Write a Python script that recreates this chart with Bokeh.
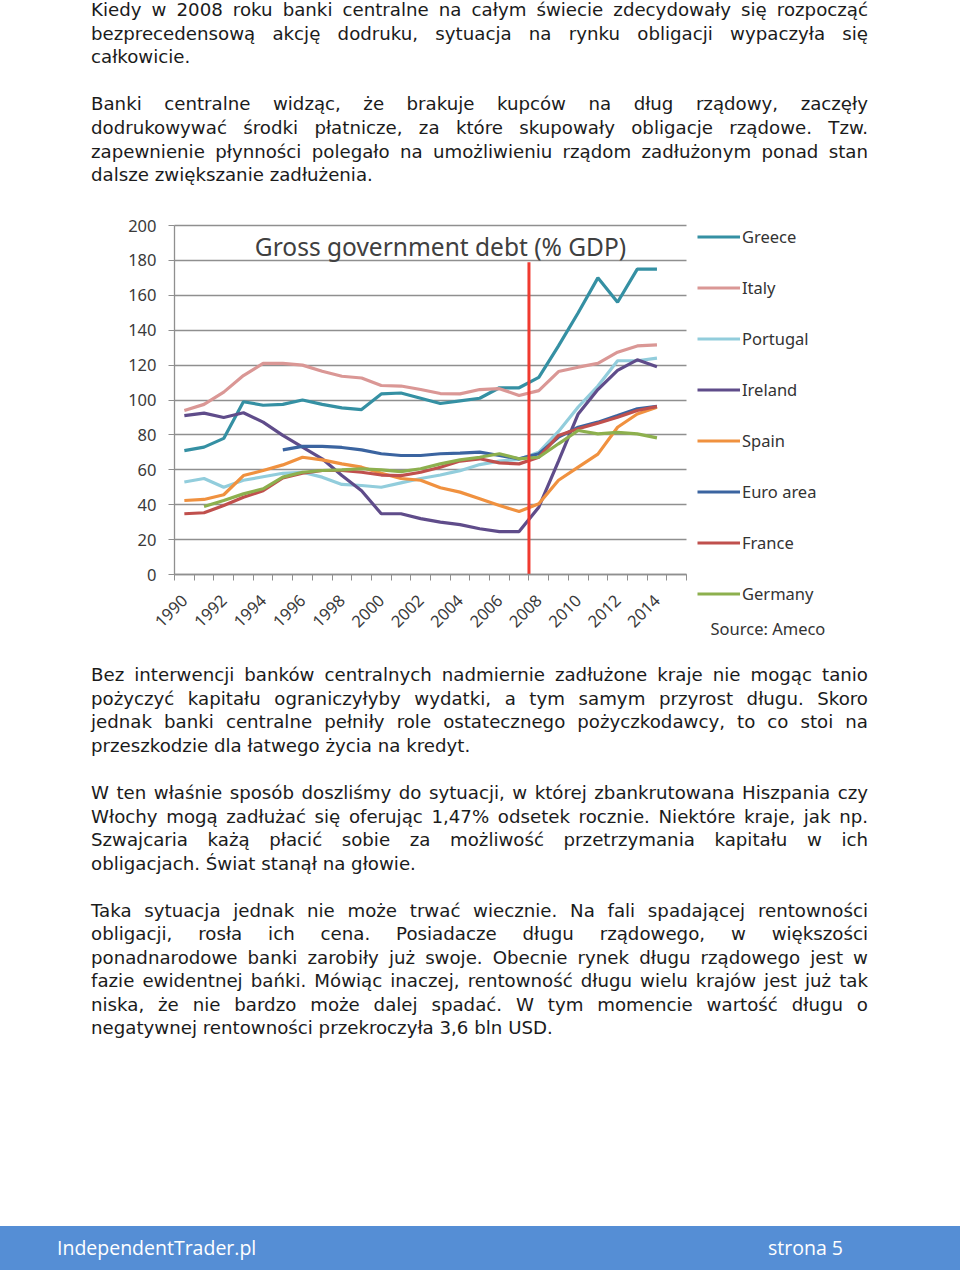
from math import pi
import numpy as np
from bokeh.plotting import figure
from bokeh.models import Range1d, FixedTicker, Legend, LegendItem, Label, Div
from bokeh.layouts import column
from bokeh.embed import file_html
from bokeh.resources import INLINE

# ---------------- data ----------------
years = list(range(1990, 2015))
greece = [71, 73, 78, 99, 97, 97.5, 100, 97.5, 95.5, 94.5, 103.5, 104, 101, 98, 99.5, 101, 107, 107, 113, 131,
          150, 170, 156, 175, 175]
italy = [94, 97.5, 104.5, 114, 121, 121, 120, 116.5, 113.6, 112.6, 108.3, 108, 106, 103.7, 103.5, 106, 106.5,
         102.6, 105.4, 116.3, 118.8, 121, 127.4, 131, 131.6]
portugal = [53, 55, 50, 54, 56, 58, 58.6, 55.8, 51.6, 51, 50, 52.5, 55, 57, 59.5, 63, 65, 66, 70, 82, 96, 108,
            122.5, 122.5, 124]
ireland = [91, 92.5, 90, 92.7, 87.3, 79.7, 73, 66.3, 56.7, 48, 34.8, 34.8, 32, 30, 28.6, 26.2, 24.6, 24.6, 38.6,
           65, 92, 106, 117, 123, 119]
spain = [42.4, 43, 45.7, 56.7, 59.6, 62.8, 67.2, 65.7, 63.4, 61.5, 58, 55, 54, 49.7, 47.2, 43.4, 39.5, 36.1, 40.5,
         54, 61.5, 69, 84.4, 92, 95.9]
euro_area = [None] * 5 + [71.4, 73.4, 73.4, 72.8, 71.4, 69.2, 68.2, 68.2, 69.2, 69.6, 70.1, 68.2, 66.3, 69.2,
                          78.7, 84.4, 87.3, 91.1, 95, 96.3]
france = [34.8, 35.4, 39.5, 44.3, 48, 55.4, 58, 59.6, 59.6, 58.6, 57, 56.7, 58.6, 61.5, 65, 66.3, 64, 63.4, 67.2,
          79.7, 83.5, 86.7, 90.1, 94, 96.3]
germany = [None, 39, 42.4, 46.2, 49.1, 55.8, 58.6, 59.6, 60, 60.6, 60, 59, 60.6, 63.4, 65.7, 67.2, 69.2, 66.3,
           67.2, 74.9, 82.5, 80.6, 81.5, 80.6, 78.3]

series_names = ["Greece", "Italy", "Portugal", "Ireland", "Spain", "Euro area", "France", "Germany"]
series_values = [greece, italy, portugal, ireland, spain, euro_area, france, germany]
series_colors = ["#3590A3", "#DA9795", "#92CDDC", "#5F4C8A", "#F0913F", "#3B64A0", "#C0504D", "#8DB04E"]

y_ticks = [0, 20, 40, 60, 80, 100, 120, 140, 160, 180, 200]
x_label_years = list(range(1990, 2015, 2))
crisis_x = 2007.5
crisis_top = 179

chart_title = "Gross government debt (% GDP)"
source_text = "Source: Ameco"

para1 = ["Kiedy w 2008 roku banki centralne na całym świecie zdecydowały się rozpocząć",
         "bezprecedensową akcję dodruku, sytuacja na rynku obligacji wypaczyła się",
         "całkowicie."]
para2 = ["Banki centralne widząc, że brakuje kupców na dług rządowy, zaczęły",
         "dodrukowywać środki płatnicze, za które skupowały obligacje rządowe. Tzw.",
         "zapewnienie płynności polegało na umożliwieniu rządom zadłużonym ponad stan",
         "dalsze zwiększanie zadłużenia."]
para3 = ["Bez interwencji banków centralnych nadmiernie zadłużone kraje nie mogąc tanio",
         "pożyczyć kapitału ograniczyłyby wydatki, a tym samym przyrost długu. Skoro",
         "jednak banki centralne pełniły role ostatecznego pożyczkodawcy, to co stoi na",
         "przeszkodzie dla łatwego życia na kredyt."]
para4 = ["W ten właśnie sposób doszliśmy do sytuacji, w której zbankrutowana Hiszpania czy",
         "Włochy mogą zadłużać się oferując 1,47% odsetek rocznie. Niektóre kraje, jak np.",
         "Szwajcaria każą płacić sobie za możliwość przetrzymania kapitału w ich",
         "obligacjach. Świat stanął na głowie."]
para5 = ["Taka sytuacja jednak nie może trwać wiecznie. Na fali spadającej rentowności",
         "obligacji, rosła ich cena. Posiadacze długu rządowego, w większości",
         "ponadnarodowe banki zarobiły już swoje. Obecnie rynek długu rządowego jest w",
         "fazie ewidentnej bańki. Mówiąc inaczej, rentowność długu wielu krajów jest już tak",
         "niska, że nie bardzo może dalej spadać. W tym momencie wartość długu o",
         "negatywnej rentowności przekroczyła 3,6 bln USD."]
footer_left = "IndependentTrader.pl"
footer_right = "strona 5"

# ---------------- text blocks ----------------
LINE_H = 23.55
TEXT_FONT = "'DejaVu Sans'"


def text_block(paragraphs, first_center, height):
    parts = [f'<div style="position:relative;width:960px;height:{height}px;font-family:{TEXT_FONT};'
             f'font-size:18.2px;color:#1b1b1b;">']
    k = 0
    for para in paragraphs:
        for i, line in enumerate(para):
            last = i == len(para) - 1
            top = first_center + k * LINE_H - LINE_H / 2
            align = "left" if last else "justify"
            parts.append(f'<div style="position:absolute;left:91px;top:{top:.2f}px;width:777px;'
                         f'height:{LINE_H}px;line-height:{LINE_H}px;text-align:{align};'
                         f'text-align-last:{align};">{line}</div>')
            k += 1
        k += 1
    parts.append("</div>")
    return "".join(parts)


TOP_H, FIG_H, MID_H, FOOT_H = 200, 455, 571, 44

top_div = Div(text=text_block([para1, para2], 10, TOP_H), width=960, height=TOP_H, margin=(0, 0, 0, 0))
bottom_div = Div(text=text_block([para3, para4, para5], 675 - (TOP_H + FIG_H), MID_H),
                 width=960, height=MID_H, margin=(0, 0, 0, 0))
footer_div = Div(text=(
    f'<div style="position:relative;width:960px;height:{FOOT_H}px;background:#558ED5;'
    "font-family:'Open Sans';font-size:19.5px;color:#ffffff;\">"
    f'<span style="position:absolute;left:57px;top:0;line-height:{FOOT_H}px;">{footer_left}</span>'
    f'<span style="position:absolute;left:768px;top:0;line-height:{FOOT_H}px;">{footer_right}</span>'
    '</div>'), width=960, height=FOOT_H, margin=(0, 0, 0, 0))

# ---------------- chart ----------------
# the plot frame covers the whole chart picture; axes and grid are limited to the data area
FIG_W = 944
DATA_LEFT, DATA_TOP = 174, 25          # pixel position of (1989.5, 200) inside the figure
FRAME_TOP = 8
px_per_year = 512 / 26.0
px_per_unit = 349 / 200.0
x0 = 1989.5
x_start = x0 - DATA_LEFT / px_per_year
x_end = x0 + (FIG_W - DATA_LEFT) / px_per_year
y_end = 200 + (DATA_TOP - FRAME_TOP) / px_per_unit
y_start = 200 - (FIG_H - DATA_TOP) / px_per_unit

p = figure(width=FIG_W, height=FIG_H, x_range=Range1d(x_start, x_end), y_range=Range1d(y_start, y_end),
           output_backend="svg", toolbar_location=None,
           min_border_left=0, min_border_right=0, min_border_top=FRAME_TOP, min_border_bottom=0,
           outline_line_color=None, background_fill_color="white", border_fill_color="white")

p.xgrid.grid_line_color = None
p.ygrid.grid_line_color = "#8f8f8f"
p.ygrid.grid_line_width = 1.3
p.ygrid.ticker = FixedTicker(ticks=y_ticks)
p.ygrid.cross_bounds = (1989.5, 2015.5)

ax = p.yaxis[0]
ax.fixed_location = 1989.5
ax.ticker = FixedTicker(ticks=y_ticks)
ax.bounds = (0, 200)
ax.axis_line_color = "#8f8f8f"
ax.axis_line_width = 1.3
ax.major_tick_in = 0
ax.major_tick_out = 6
ax.major_tick_line_color = "#8f8f8f"
ax.minor_tick_line_color = None
ax.major_label_standoff = 12
ax.major_label_text_font = "Noto Sans"
ax.major_label_text_font_size = "16.5px"
ax.major_label_text_color = "#3a3a3a"

bx = p.xaxis[0]
bx.fixed_location = 0
bx.bounds = (1989.5, 2015.5)
bx.ticker = FixedTicker(ticks=x_label_years, minor_ticks=[1989.5 + i for i in range(27)])
bx.axis_line_color = "#8f8f8f"
bx.axis_line_width = 1.3
bx.major_tick_in = 0
bx.major_tick_out = 0
bx.minor_tick_in = 0
bx.minor_tick_out = 6
bx.minor_tick_line_color = "#8f8f8f"
bx.major_label_orientation = pi / 4
bx.major_label_standoff = 17
bx.major_label_text_font = "Noto Sans"
bx.major_label_text_font_size = "16.5px"
bx.major_label_text_color = "#3a3a3a"

items = []
for name, vals, col in zip(series_names, series_values, series_colors):
    ys = np.array([np.nan if v is None else v for v in vals], dtype=float)
    r = p.line(years, ys, line_color=col, line_width=3.2)
    items.append(LegendItem(label=name, renderers=[r]))

p.segment(x0=[crisis_x], y0=[0], x1=[crisis_x], y1=[crisis_top], line_color="#F03A30", line_width=3)

legend = Legend(items=items, location=(697, 50), orientation="vertical",
                glyph_width=43, glyph_height=21, label_height=21, spacing=28,
                padding=0, margin=0, label_standoff=2,
                border_line_alpha=0, background_fill_alpha=0,
                label_text_font="Noto Sans", label_text_font_size="16.5px", label_text_color="#333333")
p.add_layout(legend)

p.add_layout(Label(x=x0 + (440 - DATA_LEFT) / px_per_year, y=188, text=chart_title,
                   text_align="center", text_baseline="middle",
                   text_font="Noto Sans", text_font_size="24.5px", text_color="#404040"))
p.add_layout(Label(x=x0 + (710 - DATA_LEFT) / px_per_year, y=-31, text=source_text,
                   text_align="left", text_baseline="middle",
                   text_font="Noto Sans", text_font_size="16.5px", text_color="#333333"))

page = column(top_div, p, bottom_div, footer_div, spacing=0)

open("out.html", "w").write(file_html(page, INLINE))
